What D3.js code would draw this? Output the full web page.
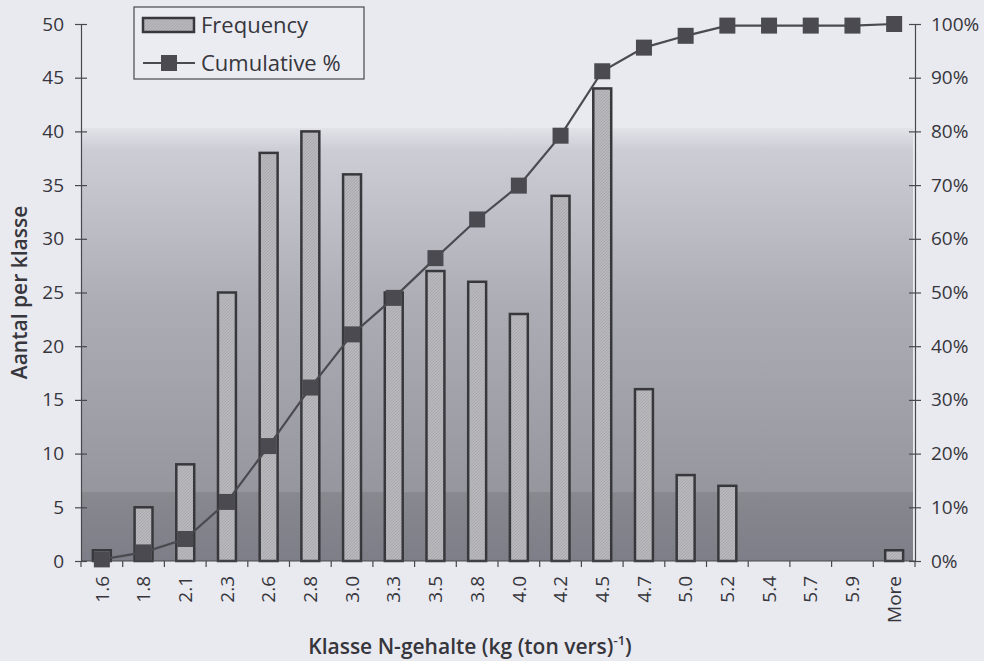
<!DOCTYPE html>
<html>
<head>
<meta charset="utf-8">
<script src="https://cdn.jsdelivr.net/npm/d3@7"></script>
<style>
  html, body { margin: 0; padding: 0; background: #e9e9f0; }
  svg { display: block; }
  text { font-family: "Open Sans", "Noto Sans", sans-serif; fill: #36363c; }
</style>
</head>
<body>
<svg id="chart" width="984" height="661"></svg>
<script>
// Class limits of N content (kg per ton fresh), last bin open-ended
const classes = ["1.6","1.8","2.1","2.3","2.6","2.8","3.0","3.3","3.5","3.8","4.0","4.2","4.5","4.7","5.0","5.2","5.4","5.7","5.9","More"];
// Number of samples per class
const frequency = [1, 5, 9, 25, 38, 40, 36, 25, 27, 26, 23, 34, 44, 16, 8, 7, 0, 0, 0, 1];
// Cumulative share of samples (%)
const cumulative = [0.3, 1.6, 4.1, 11.0, 21.4, 32.3, 42.2, 49.0, 56.4, 63.6, 69.9, 79.2, 91.2, 95.6, 97.8, 99.7, 99.7, 99.7, 99.7, 100];
const leftTicks = [0, 5, 10, 15, 20, 25, 30, 35, 40, 45, 50];
const rightTicks = [0, 10, 20, 30, 40, 50, 60, 70, 80, 90, 100];

const svg = d3.select("#chart");
const x0 = 81, x1 = 915, yTop = 24, yBase = 561;

const x = d3.scaleBand().domain(classes).range([x0, x1]).paddingInner(0.57).paddingOuter(0.285);
const xEdge = d3.scaleBand().domain(classes).range([x0, x1]);
const yL = d3.scaleLinear().domain([0, 50]).range([yBase, yTop]);
const yR = d3.scaleLinear().domain([0, 100]).range([yBase, yTop]);

const defs = svg.append("defs");

// Shaded plot backdrop: soft vertical gradient with a darker bottom band
const grad = defs.append("linearGradient").attr("id", "bg").attr("x1", 0).attr("y1", 0).attr("x2", 0).attr("y2", 1);
[["0%", "#e2e2e9"], ["5%", "#cdcdd5"], ["40%", "#adadb5"], ["84%", "#96969e"],
 ["84.2%", "#88888f"], ["100%", "#7e7e88"]].forEach(([o, c]) =>
  grad.append("stop").attr("offset", o).attr("stop-color", c));

// Fine hatching used inside the bars
const hatch = defs.append("pattern").attr("id", "hatch").attr("patternUnits", "userSpaceOnUse")
  .attr("width", 3).attr("height", 3);
hatch.append("rect").attr("width", 3).attr("height", 3).attr("fill", "#b8b8bc");
hatch.append("path").attr("d", "M0,3 L3,0").attr("stroke", "#a5a5aa").attr("stroke-width", 0.8);

svg.append("rect").attr("x", x0).attr("y", 128).attr("width", 913 - x0).attr("height", yBase - 128)
  .attr("fill", "url(#bg)");

// Frequency bars
const bars = svg.append("g");
frequency.forEach((v, i) => {
  if (v <= 0) return;
  bars.append("rect")
    .attr("x", x(classes[i]))
    .attr("y", yL(v))
    .attr("width", x.bandwidth())
    .attr("height", yBase - yL(v))
    .attr("fill", "url(#hatch)")
    .attr("stroke", "#38383c")
    .attr("stroke-width", 2.5);
});

// Axes
const axisColor = "#48484e";
const tickFont = "19px";
const gL = svg.append("g").attr("transform", `translate(${x0},0)`)
  .call(d3.axisLeft(yL).tickValues(leftTicks).tickSize(6).tickPadding(11));
const gR = svg.append("g").attr("transform", `translate(${x1},0)`)
  .call(d3.axisRight(yR).tickValues(rightTicks).tickFormat(d => d + "%").tickSize(6).tickPadding(10));
const gX = svg.append("g").attr("transform", `translate(0,${yBase})`)
  .call(d3.axisBottom(xEdge).tickSize(0).tickPadding(0));

[gL, gR].forEach(g => {
  g.select(".domain").attr("stroke", axisColor).attr("stroke-width", 1.2);
  g.selectAll(".tick line").attr("stroke", axisColor).attr("stroke-width", 1.2);
  g.selectAll("text").style("font-size", tickFont).attr("fill", "#36363c");
});
gL.selectAll(".tick line").attr("x1", 6).attr("x2", -6);
gR.selectAll(".tick line").attr("x1", -6).attr("x2", 6);

gX.select(".domain").attr("stroke", axisColor).attr("stroke-width", 1.2).attr("d", `M${x0},0H${x1}`);
// boundary ticks between classes
const edges = classes.map(c => xEdge(c)).concat([x1]);
gX.selectAll(".edge").data(edges).join("line").attr("class", "edge")
  .attr("x1", d => d).attr("x2", d => d).attr("y1", 0).attr("y2", 6)
  .attr("stroke", axisColor).attr("stroke-width", 1.2);
gX.selectAll(".tick text")
  .attr("transform", "rotate(-90)")
  .attr("x", -15).attr("y", 0).attr("dy", "0.35em")
  .attr("text-anchor", "end")
  .style("font-size", tickFont).attr("fill", "#36363c");
gX.selectAll(".tick line").remove();

// Cumulative % line with square markers
const cx = c => xEdge(c) + xEdge.bandwidth() / 2;
const line = d3.line().x((d, i) => cx(classes[i])).y(d => yR(d));
svg.append("path").datum(cumulative).attr("d", line)
  .attr("fill", "none").attr("stroke", "#4a4a50").attr("stroke-width", 2.2);
svg.append("g").selectAll("rect").data(cumulative).join("rect")
  .attr("x", (d, i) => cx(classes[i]) - 8)
  .attr("y", d => yR(d) - 8)
  .attr("width", 16).attr("height", 16)
  .attr("fill", "#4a4a50");

// Axis titles
svg.append("text")
  .attr("transform", `translate(27,${(yTop + yBase) / 2}) rotate(-90)`)
  .attr("text-anchor", "middle")
  .style("font-size", "21px").style("font-weight", "600")
  .text("Aantal per klasse");

const xt = svg.append("text").attr("x", 470).attr("y", 654).attr("text-anchor", "middle")
  .style("font-size", "21px").style("font-weight", "600");
xt.append("tspan").text("Klasse N-gehalte (kg (ton vers)");
xt.append("tspan").attr("dy", -9).style("font-size", "13px").text("-1");
xt.append("tspan").attr("dy", 9).text(")");

// Legend
const lg = svg.append("g");
lg.append("rect").attr("x", 134).attr("y", 7).attr("width", 230).attr("height", 72)
  .attr("fill", "#ebebf2").attr("stroke", "#48484e").attr("stroke-width", 1.2);
lg.append("rect").attr("x", 143).attr("y", 18).attr("width", 51).attr("height", 14)
  .attr("fill", "url(#hatch)").attr("stroke", "#38383c").attr("stroke-width", 2.5);
lg.append("text").attr("x", 201).attr("y", 33).style("font-size", "22px").text("Frequency");
lg.append("line").attr("x1", 143).attr("x2", 195).attr("y1", 63).attr("y2", 63)
  .attr("stroke", "#4a4a50").attr("stroke-width", 2.2);
lg.append("rect").attr("x", 161).attr("y", 55).attr("width", 16).attr("height", 16).attr("fill", "#4a4a50");
lg.append("text").attr("x", 201).attr("y", 71).style("font-size", "22px").text("Cumulative %");
</script>
</body>
</html>
